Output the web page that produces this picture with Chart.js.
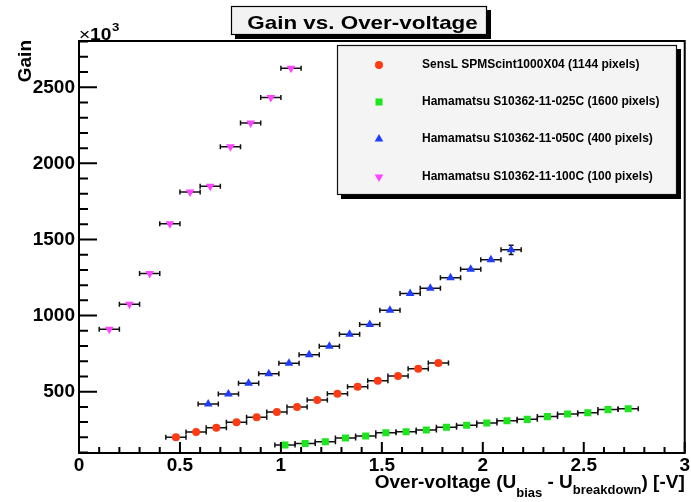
<!DOCTYPE html>
<html>
<head>
<meta charset="utf-8">
<script src="https://cdn.jsdelivr.net/npm/chart.js@4.4.1/dist/chart.umd.min.js"></script>
<style>
  body { margin: 0; background: #fff; }
  #wrap { width: 691px; height: 502px; }
</style>
</head>
<body>
<div id="wrap"><canvas id="gain" width="691" height="502"></canvas></div>
<script>
// over-voltage [V] and gain [x10^3]
const xErr = 0.05

const sensLVolt = [0.48, 0.58, 0.68, 0.78, 0.88, 0.98, 1.08, 1.18, 1.28, 1.38, 1.48, 1.58, 1.68, 1.78]
const sensLGain = [200, 235, 263, 299, 332, 366, 399, 445, 487, 533, 572, 603, 651, 689]

const ham025Volt = [1.02, 1.12, 1.22, 1.32, 1.42, 1.52, 1.62, 1.72, 1.82, 1.92, 2.02, 2.12, 2.22, 2.32, 2.42, 2.52, 2.62, 2.72]
const ham025Gain = [149, 160, 171, 195, 209, 230, 237, 248, 266, 279, 294, 309, 318, 336, 353, 362, 382, 388]

const ham050Volt = [0.64, 0.74, 0.84, 0.94, 1.04, 1.14, 1.24, 1.34, 1.44, 1.54, 1.64, 1.74, 1.84, 1.94, 2.04, 2.14]
const ham050Gain = [419, 485, 555, 618, 687, 743, 799, 878, 941, 1035, 1145, 1180, 1248, 1305, 1366, 1432]
const ham050GainErr = [0, 0, 0, 0, 0, 0, 0, 0, 0, 0, 0, 0, 0, 0, 0, 30]

const ham100Volt = [0.15, 0.25, 0.35, 0.45, 0.55, 0.65, 0.75, 0.85, 0.95, 1.05]
const ham100Gain = [910, 1075, 1276, 1603, 1812, 1849, 2110, 2266, 2432, 2625]

const seriesNames = [
  'SensL SPMScint1000X04 (1144 pixels)',
  'Hamamatsu S10362-11-025C (1600 pixels)',
  'Hamamatsu S10362-11-050C (400 pixels)',
  'Hamamatsu S10362-11-100C (100 pixels)'
]
const xTickValues = [0, 0.5, 1, 1.5, 2, 2.5, 3]
const yTickValues = [500, 1000, 1500, 2000, 2500]

const FONT = '"Liberation Sans", Arial, Helvetica, sans-serif'

function toPoints(xs, ys, yErrs) {
  return xs.map((x, i) => ({ x: x, y: ys[i], yErr: yErrs ? yErrs[i] : 0 }))
}

function series(label, pts, color, style, radius, rotation) {
  return {
    label: label,
    data: pts,
    pointStyle: style,
    pointRadius: radius,
    pointHoverRadius: radius,
    pointRotation: rotation || 0,
    pointBackgroundColor: color,
    pointBorderColor: color,
    pointBorderWidth: 0,
    showLine: false
  }
}

// ROOT draws some text a little wider than the plain font
function wideText(ctx, text, x, y, sx) {
  ctx.save()
  ctx.translate(x, y)
  ctx.scale(sx, 1)
  ctx.fillText(text, 0, 0)
  ctx.restore()
}

const rootStyle = {
  id: 'rootStyle',
  beforeDraw(chart) {
    const ctx = chart.ctx
    ctx.save()
    ctx.fillStyle = '#fff'
    ctx.fillRect(0, 0, chart.width, chart.height)
    ctx.restore()
  },
  beforeDatasetsDraw(chart) {
    const ctx = chart.ctx
    const xs = chart.scales.x, ys = chart.scales.y
    ctx.save()
    ctx.strokeStyle = '#111'
    ctx.lineWidth = 1.5
    chart.data.datasets.forEach((ds) => {
      ds.data.forEach((p) => {
        const x0 = xs.getPixelForValue(p.x - xErr)
        const x1 = xs.getPixelForValue(p.x + xErr)
        const py = ys.getPixelForValue(p.y)
        ctx.beginPath()
        ctx.moveTo(x0, py); ctx.lineTo(x1, py)
        ctx.moveTo(x0, py - 2.5); ctx.lineTo(x0, py + 2.5)
        ctx.moveTo(x1, py - 2.5); ctx.lineTo(x1, py + 2.5)
        if (p.yErr) {
          const px = xs.getPixelForValue(p.x)
          const y0 = ys.getPixelForValue(p.y - p.yErr)
          const y1 = ys.getPixelForValue(p.y + p.yErr)
          ctx.moveTo(px, y0); ctx.lineTo(px, y1)
          ctx.moveTo(px - 2.5, y0); ctx.lineTo(px + 2.5, y0)
          ctx.moveTo(px - 2.5, y1); ctx.lineTo(px + 2.5, y1)
        }
        ctx.stroke()
      })
    })
    ctx.restore()
  },
  afterDraw(chart) {
    const ctx = chart.ctx
    const a = chart.chartArea
    const xs = chart.scales.x, ys = chart.scales.y
    ctx.save()

    // frame
    ctx.strokeStyle = '#000'
    ctx.lineWidth = 2
    ctx.strokeRect(a.left, a.top, a.right - a.left, a.bottom - a.top)

    // inside ticks
    ctx.beginPath()
    for (let i = 0; i <= 30; i++) {
      const px = xs.getPixelForValue(i / 10)
      const len = i % 5 === 0 ? 11 : 6
      ctx.moveTo(px, a.bottom); ctx.lineTo(px, a.bottom - len)
    }
    for (let v = 100; v <= 2800; v += 100) {
      const py = ys.getPixelForValue(v)
      if (py < a.top || py > a.bottom) continue
      const len = v % 500 === 0 ? 18 : 9
      ctx.moveTo(a.left, py); ctx.lineTo(a.left + len, py)
    }
    ctx.stroke()

    // title box
    ctx.fillStyle = '#000'
    ctx.fillRect(235, 10, 256, 29)
    ctx.fillStyle = '#f2f2f2'
    ctx.fillRect(231, 6, 256, 29)
    ctx.lineWidth = 1.2
    ctx.strokeStyle = '#000'
    ctx.strokeRect(231.5, 6.5, 255, 28)
    ctx.fillStyle = '#000'
    ctx.font = 'bold 19px ' + FONT
    ctx.textAlign = 'center'
    ctx.textBaseline = 'alphabetic'
    wideText(ctx, 'Gain vs. Over-voltage', 362.5, 28.5, 1.18)

    // legend box
    ctx.fillStyle = '#000'
    ctx.fillRect(341, 49, 340, 150)
    ctx.fillStyle = '#f4f4f4'
    ctx.fillRect(337, 45, 340, 150)
    ctx.strokeStyle = '#111'
    ctx.lineWidth = 1.2
    ctx.strokeRect(337.5, 45.5, 339, 149)
    const rows = [65, 102, 139, 177]
    ctx.font = 'bold 12px ' + FONT
    ctx.textAlign = 'left'
    ctx.textBaseline = 'middle'
    chart.data.datasets.forEach((ds, i) => {
      const opts = {
        pointStyle: ds.pointStyle,
        radius: ds.pointRadius,
        rotation: ds.pointRotation,
        borderWidth: 0
      }
      ctx.fillStyle = ds.pointBackgroundColor
      ctx.strokeStyle = ds.pointBorderColor
      Chart.helpers.drawPoint(ctx, opts, 379, rows[i])
      ctx.fillStyle = '#000'
      ctx.fillText(seriesNames[i], 422, rows[i])
    })

    // y title
    ctx.save()
    ctx.translate(31, 40)
    ctx.rotate(-Math.PI / 2)
    ctx.font = 'bold 19px ' + FONT
    ctx.textAlign = 'right'
    ctx.textBaseline = 'alphabetic'
    ctx.fillText('Gain', 0, 0)
    ctx.restore()

    // x10^3
    ctx.textAlign = 'left'
    ctx.textBaseline = 'alphabetic'
    ctx.font = '16px ' + FONT
    wideText(ctx, '\u00d7', 79, 40, 1.2)
    ctx.font = 'bold 16px ' + FONT
    wideText(ctx, '10', 90, 40, 1.2)
    ctx.font = 'bold 11px ' + FONT
    wideText(ctx, '3', 112, 31, 1.2)

    // x title with subscripts
    const parts = [
      ['Over-voltage (U', 'bold 19px ', 0],
      ['bias', 'bold 13px ', 9],
      [' - U', 'bold 19px ', 0],
      ['breakdown', 'bold 13px ', 6],
      [') [-V]', 'bold 19px ', 0]
    ]
    let total = 0
    parts.forEach((p) => { ctx.font = p[1] + FONT; total += ctx.measureText(p[0]).width })
    let cx = a.right - total
    parts.forEach((p) => {
      ctx.font = p[1] + FONT
      ctx.fillText(p[0], cx, 488 + p[2])
      cx += ctx.measureText(p[0]).width
    })

    ctx.restore()
  }
}

new Chart(document.getElementById('gain'), {
  type: 'scatter',
  data: {
    datasets: [
      series(seriesNames[0], toPoints(sensLVolt, sensLGain), '#ff3b14', 'circle', 4),
      series(seriesNames[1], toPoints(ham025Volt, ham025Gain), '#1ee61e', 'rect', 5),
      series(seriesNames[2], toPoints(ham050Volt, ham050Gain, ham050GainErr), '#1f3cff', 'triangle', 5),
      series(seriesNames[3], toPoints(ham100Volt, ham100Gain), '#ff44ff', 'triangle', 5, 180)
    ]
  },
  options: {
    responsive: false,
    animation: false,
    layout: { padding: { top: 41, right: 6, left: 0, bottom: 0 } },
    plugins: {
      legend: { display: false },
      title: { display: false },
      tooltip: { enabled: false }
    },
    scales: {
      x: {
        type: 'linear',
        min: 0,
        max: 3,
        afterFit: (s) => { s.height = 49 },
        afterBuildTicks: (s) => { s.ticks = xTickValues.map((v) => ({ value: v })) },
        grid: { display: false, drawTicks: false },
        border: { display: true, color: '#000', width: 2 },
        ticks: {
          color: '#000',
          padding: 1,
          maxRotation: 0,
          autoSkip: false,
          font: { family: FONT, size: 19, weight: 'bold' },
          callback: (v) => String(v)
        }
      },
      y: {
        type: 'linear',
        min: 97,
        max: 2804,
        afterFit: (s) => { s.width = 79 },
        afterBuildTicks: (s) => { s.ticks = yTickValues.map((v) => ({ value: v })) },
        grid: { display: false, drawTicks: false },
        border: { display: true, color: '#000', width: 2 },
        ticks: {
          color: '#000',
          padding: 4,
          autoSkip: false,
          font: { family: FONT, size: 19, weight: 'bold' },
          callback: (v) => String(v)
        }
      }
    }
  },
  plugins: [rootStyle]
})
</script>
</body>
</html>
